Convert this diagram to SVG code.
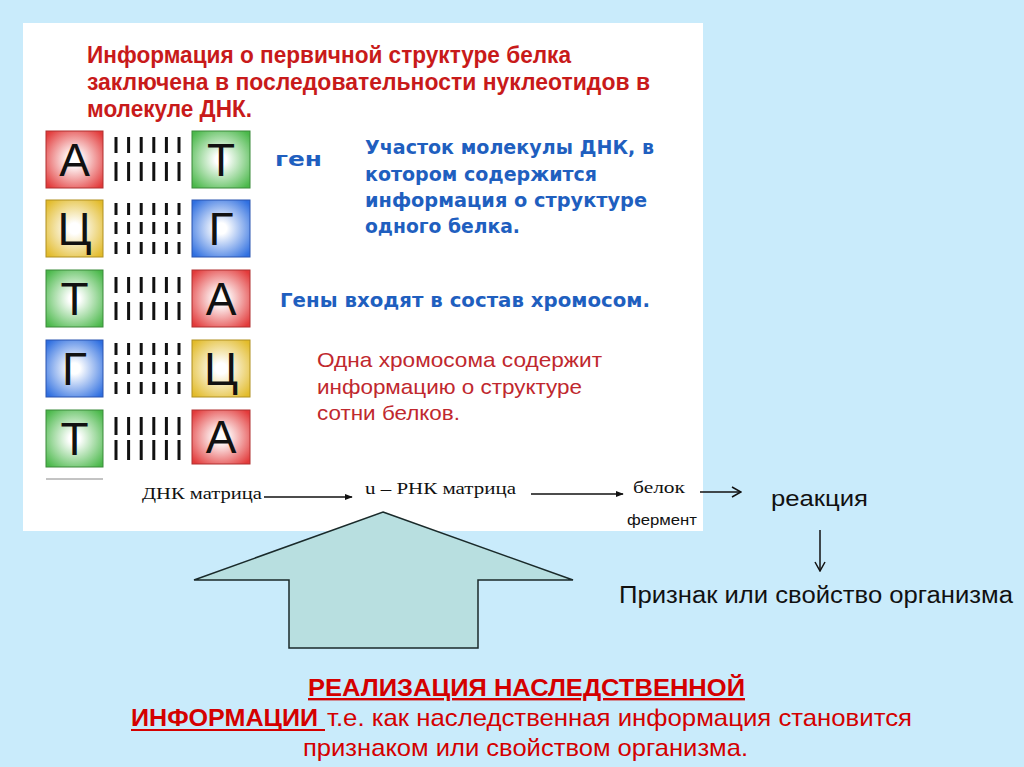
<svg xmlns="http://www.w3.org/2000/svg" width="1024" height="767" viewBox="0 0 1024 767">
<defs>
<style>
.title{font-family:"Liberation Sans",Arial,sans-serif;font-weight:bold;font-size:23px;fill:#c81a1a}
.blue{font-family:"DejaVu Sans",Verdana,sans-serif;font-weight:bold;font-size:19px;fill:#1f5fbf}
.redr{font-family:"Liberation Sans",Arial,sans-serif;font-size:21px;fill:#c0282e}
.letter{font-family:"Liberation Sans",Arial,sans-serif;font-size:46px;fill:#111;text-anchor:middle}
.serif{font-family:"Liberation Serif","Times New Roman",serif;font-size:17px;fill:#111}
.blk{font-family:"Liberation Sans",Arial,sans-serif;font-weight:normal;fill:#111}
.bot{font-family:"Liberation Sans",Arial,sans-serif;font-size:24px;fill:#d40000}
.bar{stroke:#111;stroke-width:3}
.ln{stroke:#111;stroke-width:1.5;fill:none}
</style>
<radialGradient id="gR" cx="50%" cy="50%" r="65%"><stop offset="0.15" stop-color="#fff"/><stop offset="1" stop-color="#e23a3a"/></radialGradient>
<radialGradient id="gG" cx="50%" cy="50%" r="65%"><stop offset="0.15" stop-color="#fff"/><stop offset="1" stop-color="#4ab84a"/></radialGradient>
<radialGradient id="gY" cx="50%" cy="50%" r="65%"><stop offset="0.15" stop-color="#fff"/><stop offset="1" stop-color="#e2bb2a"/></radialGradient>
<radialGradient id="gB" cx="50%" cy="50%" r="65%"><stop offset="0.15" stop-color="#fff"/><stop offset="1" stop-color="#2f6fe0"/></radialGradient>
<marker id="solid" viewBox="0 0 10 10" refX="9" refY="5" markerWidth="8" markerHeight="8" markerUnits="userSpaceOnUse" orient="auto"><path d="M0,1 L10,5 L0,9 z" fill="#111"/></marker>
<marker id="open" viewBox="0 0 12 12" refX="11" refY="6" markerWidth="12" markerHeight="12" markerUnits="userSpaceOnUse" orient="auto"><path d="M2,1 L11,6 L2,11" fill="none" stroke="#111" stroke-width="1.5"/></marker>
</defs>
<rect x="0" y="0" width="1024" height="767" fill="#c9ebfb"/>
<rect x="23" y="23" width="680" height="508" fill="#ffffff"/>

<g id="title">
<text class="title" x="87" y="63" textLength="484" lengthAdjust="spacingAndGlyphs">Информация о первичной структуре белка</text>
<text class="title" x="87" y="90" textLength="563" lengthAdjust="spacingAndGlyphs">заключена в последовательности нуклеотидов  в</text>
<text class="title" x="87" y="117" textLength="165" lengthAdjust="spacingAndGlyphs">молекуле ДНК.</text>
</g>

<g id="dna">
<g id="pair1">
<rect x="46" y="131" width="57" height="57" fill="url(#gR)" stroke="#b03030"/>
<text class="letter" x="74.5" y="176">А</text>
<rect x="192" y="131" width="58" height="57" fill="url(#gG)" stroke="#3a8a3a"/>
<text class="letter" x="221" y="176">Т</text>
<path class="bar" d="M116,137V153M128.6,137V153M141.2,137V153M153.8,137V153M166.4,137V153M179,137V153M116,162V181M128.6,162V181M141.2,162V181M153.8,162V181M166.4,162V181M179,162V181"/>
</g>
<g id="pair2">
<rect x="46" y="200" width="57" height="57" fill="url(#gY)" stroke="#b09020"/>
<text class="letter" x="74.5" y="245">Ц</text>
<rect x="192" y="200" width="58" height="57" fill="url(#gB)" stroke="#2a55b0"/>
<text class="letter" x="221" y="245">Г</text>
<path class="bar" d="M116,203V215M128.6,203V215M141.2,203V215M153.8,203V215M166.4,203V215M179,203V215M116,222V234M128.6,222V234M141.2,222V234M153.8,222V234M166.4,222V234M179,222V234M116,242V254M128.6,242V254M141.2,242V254M153.8,242V254M166.4,242V254M179,242V254"/>
</g>
<g id="pair3">
<rect x="46" y="270" width="57" height="57" fill="url(#gG)" stroke="#3a8a3a"/>
<text class="letter" x="74.5" y="315">Т</text>
<rect x="192" y="270" width="58" height="57" fill="url(#gR)" stroke="#b03030"/>
<text class="letter" x="221" y="315">А</text>
<path class="bar" d="M116,277V293M128.6,277V293M141.2,277V293M153.8,277V293M166.4,277V293M179,277V293M116,302V320M128.6,302V320M141.2,302V320M153.8,302V320M166.4,302V320M179,302V320"/>
</g>
<g id="pair4">
<rect x="46" y="340" width="57" height="57" fill="url(#gB)" stroke="#2a55b0"/>
<text class="letter" x="74.5" y="385">Г</text>
<rect x="192" y="340" width="58" height="57" fill="url(#gY)" stroke="#b09020"/>
<text class="letter" x="221" y="385">Ц</text>
<path class="bar" d="M116,343V355M128.6,343V355M141.2,343V355M153.8,343V355M166.4,343V355M179,343V355M116,362V374M128.6,362V374M141.2,362V374M153.8,362V374M166.4,362V374M179,362V374M116,382V394M128.6,382V394M141.2,382V394M153.8,382V394M166.4,382V394M179,382V394"/>
</g>
<g id="pair5">
<rect x="46" y="410" width="57" height="57" fill="url(#gG)" stroke="#3a8a3a"/>
<text class="letter" x="74.5" y="455">Т</text>
<rect x="192" y="410" width="58" height="54" fill="url(#gR)" stroke="#b03030"/>
<text class="letter" x="221" y="453">А</text>
<path class="bar" d="M116,417V435M128.6,417V435M141.2,417V435M153.8,417V435M166.4,417V435M179,417V435M116,440V460M128.6,440V460M141.2,440V460M153.8,440V460M166.4,440V460M179,440V460"/>
</g>
<line x1="46" y1="479" x2="103" y2="479" stroke="#888" stroke-width="1"/>
</g>

<g id="gene">
<text class="blue" x="275" y="166" font-size="25" textLength="47" lengthAdjust="spacingAndGlyphs">ген</text>
<text class="blue" x="365" y="154" textLength="289" lengthAdjust="spacingAndGlyphs">Участок молекулы ДНК, в</text>
<text class="blue" x="365" y="181" textLength="232" lengthAdjust="spacingAndGlyphs">котором содержится</text>
<text class="blue" x="365" y="207" textLength="282" lengthAdjust="spacingAndGlyphs">информация о структуре</text>
<text class="blue" x="365" y="233" textLength="155" lengthAdjust="spacingAndGlyphs">одного белка.</text>
</g>
<g id="genes">
<text class="blue" x="280" y="307" textLength="370" lengthAdjust="spacingAndGlyphs">Гены входят в состав хромосом.</text>
</g>
<g id="chromosome">
<text class="redr" x="317" y="367" textLength="285" lengthAdjust="spacingAndGlyphs">Одна хромосома содержит</text>
<text class="redr" x="317" y="394" textLength="265" lengthAdjust="spacingAndGlyphs">информацию о структуре</text>
<text class="redr" x="317" y="420" textLength="143" lengthAdjust="spacingAndGlyphs">сотни белков.</text>
</g>

<g id="dna-matrix"><text class="serif" x="142" y="499" textLength="120" lengthAdjust="spacingAndGlyphs">ДНК матрица</text></g>
<g id="rna-matrix"><text class="serif" x="365" y="494" textLength="151" lengthAdjust="spacingAndGlyphs">u – РНК матрица</text></g>
<g id="protein">
<text class="serif" x="633" y="493" textLength="52" lengthAdjust="spacingAndGlyphs">белок</text>
<text class="blk" x="627" y="525" font-size="15" textLength="70" lengthAdjust="spacingAndGlyphs">фермент</text>
</g>
<g id="reaction"><text class="blk" x="771" y="506" font-size="22" textLength="97" lengthAdjust="spacingAndGlyphs">реакция</text></g>
<g id="trait"><text class="blk" x="619" y="603" font-size="23" textLength="394" lengthAdjust="spacingAndGlyphs">Признак или свойство организма</text></g>

<g id="big-arrow">
<polygon points="383,512 573,580 478,580 478,648 289,648 289,580 194,580" fill="#b8dfe0" stroke="#1a2a2a" stroke-width="1.5"/>
</g>

<g id="connectors">
<line x1="264" y1="497" x2="352" y2="497" stroke="#111" stroke-width="1.5" marker-end="url(#solid)"/>
<line x1="531" y1="494" x2="623" y2="494" stroke="#111" stroke-width="1.5" marker-end="url(#solid)"/>
<line class="ln" x1="700" y1="492" x2="741" y2="492" marker-end="url(#open)"/>
<line class="ln" x1="820" y1="530" x2="820" y2="571" marker-end="url(#open)"/>
</g>

<g id="caption">
<text class="bot" x="308" y="696" font-weight="bold" text-decoration="underline" textLength="437" lengthAdjust="spacingAndGlyphs">РЕАЛИЗАЦИЯ НАСЛЕДСТВЕННОЙ</text>
<text class="bot" x="131" y="726" font-weight="bold" textLength="187" lengthAdjust="spacingAndGlyphs">ИНФОРМАЦИИ</text>
<line x1="131" y1="730" x2="325" y2="730" stroke="#d40000" stroke-width="2"/>
<text class="bot" x="327" y="726" textLength="585" lengthAdjust="spacingAndGlyphs">т.е. как наследственная информация становится</text>
<text class="bot" x="303" y="756" textLength="445" lengthAdjust="spacingAndGlyphs">признаком или свойством организма.</text>
</g>
</svg>
